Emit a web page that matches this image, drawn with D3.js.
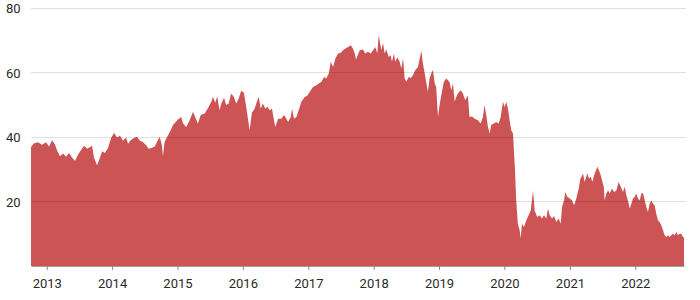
<!DOCTYPE html>
<html>
<head>
<meta charset="utf-8">
<script src="https://cdn.jsdelivr.net/npm/d3@7"></script>
<style>
    body { margin: 0; background: #fff; }
    svg { display: block; font-family: Roboto, 'Noto Sans', sans-serif; }
</style>
</head>
<body>
<svg id="chart" width="700" height="300"></svg>
<script>
// time as decimal years
const times = [
    2012.76, 2012.806, 2012.867, 2012.928, 2012.989, 2013.035, 2013.081, 2013.127, 2013.157, 2013.203,
    2013.249, 2013.295, 2013.341, 2013.387, 2013.433, 2013.479, 2013.524, 2013.570, 2013.616, 2013.662,
    2013.693, 2013.723, 2013.769, 2013.815, 2013.846, 2013.891, 2013.937, 2013.983, 2014.029, 2014.075,
    2014.121, 2014.167, 2014.213, 2014.243, 2014.289, 2014.335, 2014.381, 2014.426,
    2014.472, 2014.515, 2014.56, 2014.605, 2014.651, 2014.69, 2014.728, 2014.763, 2014.778, 2014.804,
    2014.844, 2014.896, 2014.931, 2014.97, 2015.008, 2015.058, 2015.084, 2015.135, 2015.187, 2015.237,
    2015.272, 2015.313, 2015.355, 2015.416, 2015.477, 2015.517, 2015.543, 2015.578, 2015.609, 2015.645,
    2015.67, 2015.711, 2015.746, 2015.783, 2015.823, 2015.864, 2015.899, 2015.936, 2015.976, 2016.017,
    2016.052, 2016.104, 2016.139,
    2016.18, 2016.205, 2016.242, 2016.272, 2016.307, 2016.343, 2016.373, 2016.41, 2016.445, 2016.476,
    2016.495, 2016.537, 2016.587, 2016.628, 2016.664, 2016.69, 2016.731, 2016.751, 2016.781, 2016.817,
    2016.853, 2016.893, 2016.945, 2016.985, 2017.021, 2017.072, 2017.122, 2017.159, 2017.199, 2017.24,
    2017.275, 2017.312, 2017.343, 2017.378, 2017.413, 2017.454, 2017.495, 2017.531, 2017.566, 2017.607,
    2017.648, 2017.683, 2017.709, 2017.729,
    2017.786, 2017.836, 2017.872, 2017.913, 2017.954, 2017.989, 2018.024, 2018.055, 2018.076, 2018.096,
    2018.116, 2018.142, 2018.168, 2018.193, 2018.229, 2018.26, 2018.28, 2018.31, 2018.33, 2018.361,
    2018.398, 2018.422, 2018.448, 2018.474, 2018.498, 2018.535, 2018.566, 2018.601, 2018.636, 2018.677,
    2018.703, 2018.728, 2018.754, 2018.78, 2018.804, 2018.83, 2018.856, 2018.891, 2018.907, 2018.933,
    2018.957, 2018.983, 2019.009, 2019.044, 2019.075, 2019.11, 2019.136, 2019.162, 2019.187, 2019.213,
    2019.239, 2019.263, 2019.289, 2019.33, 2019.365, 2019.4, 2019.441, 2019.467,
    2019.505, 2019.544, 2019.595, 2019.636, 2019.671, 2019.697, 2019.722, 2019.748, 2019.774, 2019.798,
    2019.839, 2019.875, 2019.911, 2019.942, 2019.977, 2020.003, 2020.028, 2020.054, 2020.08, 2020.104,
    2020.13, 2020.145, 2020.165, 2020.18, 2020.206, 2020.232, 2020.248, 2020.268, 2020.298, 2020.333,
    2020.37, 2020.401, 2020.436, 2020.462, 2020.501, 2020.538, 2020.573, 2020.604, 2020.639, 2020.665,
    2020.691, 2020.726, 2020.757, 2020.792, 2020.829, 2020.859, 2020.879, 2020.91, 2020.93, 2020.96,
    2020.997, 2021.032, 2021.063, 2021.098, 2021.135, 2021.159,
    2021.174, 2021.2, 2021.226, 2021.266, 2021.292, 2021.318, 2021.343, 2021.369, 2021.389, 2021.419,
    2021.445, 2021.471, 2021.491, 2021.517, 2021.532, 2021.557, 2021.583, 2021.609, 2021.644, 2021.674,
    2021.709, 2021.746, 2021.777, 2021.812, 2021.838, 2021.862, 2021.888, 2021.914, 2021.939, 2021.965,
    2021.991, 2022.015, 2022.041, 2022.067, 2022.092, 2022.118, 2022.144, 2022.168, 2022.194, 2022.22,
    2022.245, 2022.271, 2022.297, 2022.321, 2022.347, 2022.373, 2022.398, 2022.424, 2022.45, 2022.474,
    2022.5, 2022.526, 2022.55, 2022.576, 2022.602, 2022.627, 2022.653, 2022.679, 2022.703, 2022.729,
    2022.745
];

const prices = [
    36.8, 38.0, 38.3, 37.5, 38.3, 37.0, 38.9, 37.6, 35.8, 34.0,
    34.8, 33.8, 35.0, 33.6, 32.5, 34.5, 35.8, 37.2, 36.3, 36.8,
    37.2, 33.5, 31.2, 33.5, 35.5, 35.0, 36.5, 39.5, 41.2, 39.8,
    40.3, 38.8, 39.8, 37.8, 39.0, 39.6, 40.0, 38.8,
    38.4, 37.5, 36.3, 36.5, 37.0, 38.5, 40.0, 37.4, 34.0, 38.4,
    40.0, 42.0, 43.6, 44.5, 45.3, 46.1, 44.1, 43.0, 45.1, 47.7,
    46.1, 44.1, 46.7, 47.2, 49.2, 50.8, 52.3, 50.5, 52.5, 48.2,
    50.3, 52.1, 49.8, 50.3, 53.4, 52.3, 50.3, 51.8, 54.2, 53.6,
    49.2, 42.0, 47.5,
    48.7, 50.3, 52.3, 48.7, 50.3, 48.7, 49.4, 48.2, 48.7, 45.1,
    43.0, 45.6, 45.6, 46.7, 45.6, 44.6, 46.1, 48.7, 45.6, 46.1,
    48.2, 50.8, 52.3, 52.8, 53.9, 55.4, 55.9, 56.5, 57.0, 58.5,
    58.0, 59.6, 63.2, 61.6, 64.2, 65.8, 66.0, 66.8, 67.3, 67.8,
    68.3, 67.3, 65.8, 63.9,
    66.8, 67.0, 65.8, 66.3, 65.8, 66.8, 67.8, 65.8, 71.4, 69.3,
    66.8, 69.0, 65.8, 67.0, 64.7, 65.2, 63.2, 65.8, 63.2, 64.5,
    63.2, 61.1, 64.2, 58.0, 57.0, 58.5, 58.2, 59.0, 60.6, 61.6,
    64.2, 66.6, 62.7, 59.6, 57.0, 53.9, 58.0, 60.1, 60.6, 56.5,
    55.4, 46.1, 49.8, 53.9, 57.0, 58.0, 57.5, 56.9, 54.4, 56.5,
    50.8, 52.3, 53.4, 54.4, 53.4, 51.3, 52.8, 46.1,
    46.3, 45.6, 45.1, 44.1, 46.1, 49.8, 46.5, 43.0, 41.0, 43.6,
    44.1, 44.6, 44.1, 46.1, 50.8, 49.2, 50.8, 48.7, 45.1, 42.0,
    41.0, 35.8, 28.6, 20.3, 13.1, 11.1, 8.5, 13.1, 12.1, 14.1,
    15.7, 17.2, 23.4, 17.2, 15.2, 15.7, 14.7, 15.7, 14.7, 17.8,
    15.7, 14.7, 15.5, 13.6, 14.7, 13.1, 18.3, 20.3, 22.9, 21.4,
    20.9, 20.3, 18.8, 21.0, 24.0, 27.0,
    27.6, 28.6, 26.0, 28.6, 27.1, 27.6, 26.0, 28.1, 29.1, 30.7,
    29.6, 28.1, 26.5, 24.5, 20.3, 22.4, 23.4, 22.4, 24.0, 22.9,
    23.4, 26.0, 24.5, 22.9, 24.5, 21.9, 20.3, 17.8, 19.3, 20.9,
    21.4, 22.4, 20.9, 20.3, 22.4, 22.6, 20.3, 18.3, 16.7, 19.3,
    20.3, 19.3, 18.8, 16.2, 14.1, 13.6, 12.6, 11.1, 9.5, 9.0,
    9.5, 9.0, 9.5, 10.0, 9.5, 10.5, 9.5, 10.0, 10.0, 9.0,
    8.8
];

const yTicks = [20, 40, 60, 80];

// decimal year -> Date
function toDate(t) {
    const yr = Math.floor(t);
    const days = d3.timeDay.count(new Date(yr, 0, 1), new Date(yr + 1, 0, 1));
    return new Date(yr, 0, 1 + Math.round((t - yr) * days));
}

const data = times.map((t, i) => ({ date: toDate(t), value: prices[i] }));

const width = 700;
const height = 300;
const margin = {top: 7.5, right: 16, bottom: 34, left: 31};

const svg = d3.select('#chart');

const x = d3.scaleTime()
    .domain(d3.extent(data, d => d.date))
    .range([margin.left, width - margin.right]);

const y = d3.scaleLinear()
    .domain([0, 80])
    .range([height - margin.bottom, margin.top]);

const area = d3.area()
    .x(d => x(d.date))
    .y0(y(0))
    .y1(d => y(d.value));

svg.append('path')
    .datum(data)
    .attr('fill', '#cd5454')
    .attr('d', area);

// gridlines on top of the area
svg.append('g')
    .selectAll('line')
    .data(yTicks)
    .enter().append('line')
    .attr('x1', margin.left)
    .attr('x2', width - margin.right + 2)
    .attr('y1', d => Math.round(y(d)) + 0.5)
    .attr('y2', d => Math.round(y(d)) + 0.5)
    .attr('stroke', '#000')
    .attr('stroke-opacity', 0.12);

svg.append('g')
    .selectAll('text')
    .data(yTicks)
    .enter().append('text')
    .attr('x', 6)
    .attr('y', d => y(d))
    .attr('dy', '0.42em')
    .attr('font-size', '13px')
    .attr('fill', '#2a2a2a')
    .text(d => d);

const xAxis = d3.axisBottom(x)
    .ticks(d3.timeYear.every(1))
    .tickFormat(d3.timeFormat('%Y'))
    .tickSize(4)
    .tickPadding(9)
    .tickSizeOuter(0);

const gx = svg.append('g')
    .attr('transform', `translate(0, ${height - margin.bottom})`)
    .call(xAxis);

gx.select('.domain').attr('stroke', '#a89e99');
gx.selectAll('.tick line').attr('stroke', '#888');
gx.selectAll('.tick text')
    .attr('font-size', '13px')
    .attr('font-family', 'Roboto, sans-serif')
    .attr('fill', '#2a2a2a');
</script>
</body>
</html>
